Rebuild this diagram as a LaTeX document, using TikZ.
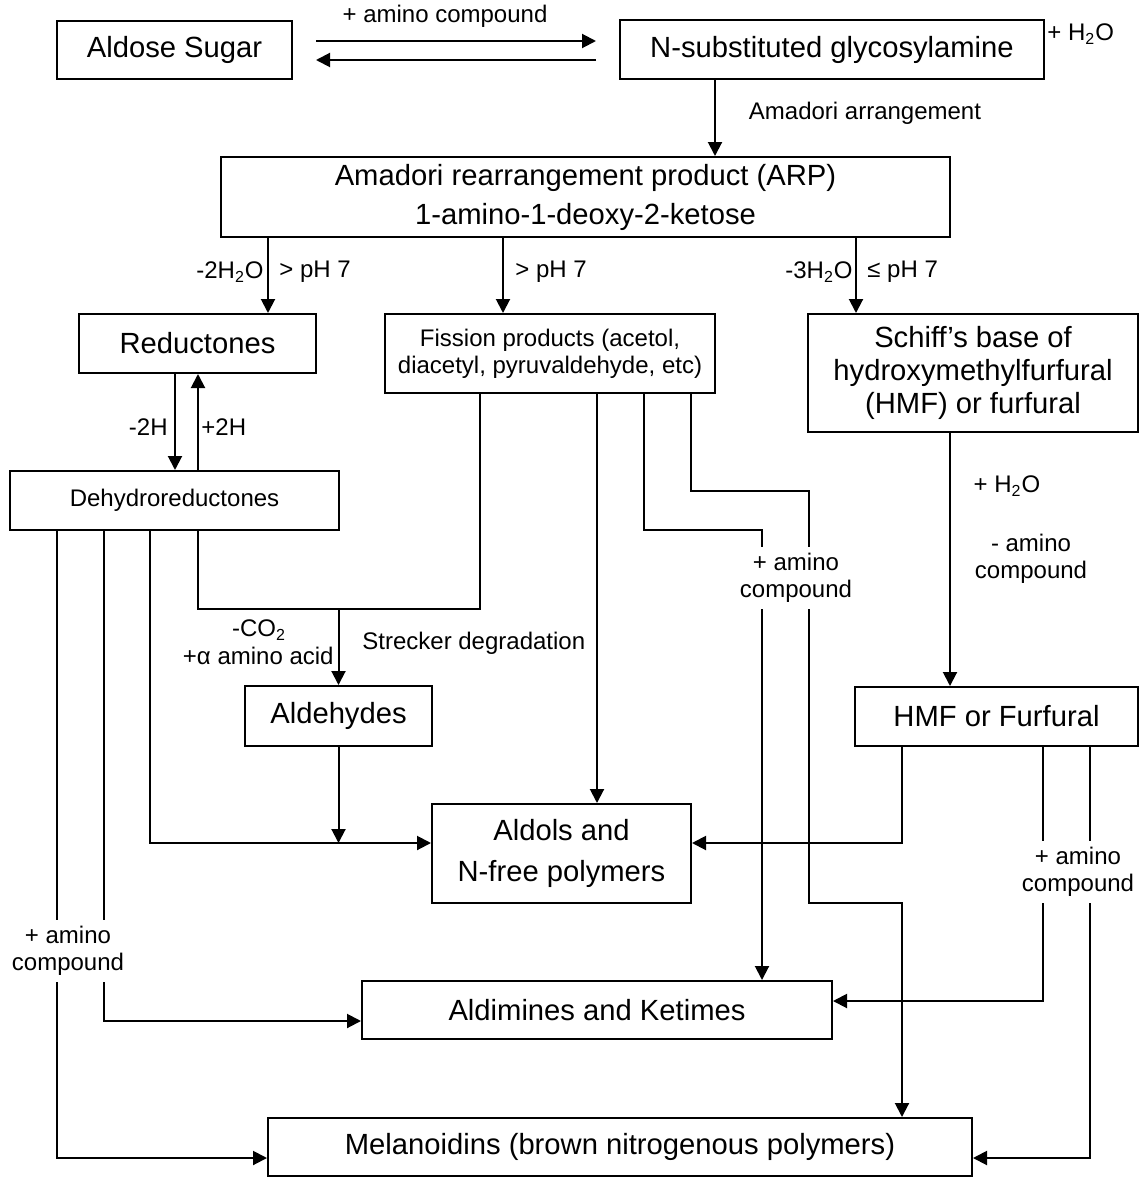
\documentclass[tikz,border=0pt]{standalone}
\usepackage{fontspec}
\setmainfont{Liberation Sans}
\usetikzlibrary{arrows.meta}

\begin{document}
\begin{tikzpicture}[x=0.5pt, y=-0.5pt,
    box/.style={draw, line width=1pt, inner sep=0pt, align=center, font={\fontsize{14.6}{17.5}\selectfont}},
    lbl/.style={inner sep=0pt, align=center, font={\fontsize{12}{13.5}\selectfont}},
    gap/.style={lbl, fill=white, inner sep=3pt},
    arr/.style={-{Triangle[length=7pt, width=7pt]}, line width=1pt},
    wire/.style={line width=1pt}]
    \useasboundingbox (0,0) rectangle (1143,1177);

    \foreach \x in {57,104,150,175,198,268,480,503,597,644,691,715,762,809,856,902,950,1043,1090}
        \coordinate (c\x) at (\x,0);
    \foreach \y in {41,60,491,530,609,843,903,1001,1021,1158}
        \coordinate (r\y) at (0,\y);

    \node[box, minimum width=117.5pt, minimum height=29pt] (aldose) at (174.5,50) {Aldose Sugar};
    \node[box, minimum width=212pt, minimum height=29.5pt] (glyco) at (832,49.5) {N-substituted glycosylamine};
    \node[box, minimum width=364.5pt, minimum height=40pt, font={\fontsize{14.6}{19.5}\selectfont}] (arp) at (585.5,197) {Amadori rearrangement product (ARP)\\1-amino-1-deoxy-2-ketose};
    \node[box, minimum width=118.5pt, minimum height=29.5pt] (reduct) at (197.5,343.5) {Reductones};
    \node[box, minimum width=165pt, minimum height=39.5pt, font={\fontsize{12}{13.5}\selectfont}] (fission) at (550,353.5) {Fission products (acetol,\\diacetyl, pyruvaldehyde, etc)};
    \node[box, minimum width=165pt, minimum height=59pt, font={\fontsize{14.6}{16.5}\selectfont}] (schiff) at (973,373) {Schiff’s base of\\hydroxymethylfurfural\\(HMF) or furfural};
    \node[box, minimum width=164.5pt, minimum height=29.5pt, font={\fontsize{12}{13.5}\selectfont}] (dehydro) at (174.5,500.5) {Dehydroreductones};
    \node[box, minimum width=93.5pt, minimum height=30pt] (aldehydes) at (338.5,716) {Aldehydes};
    \node[box, minimum width=141.5pt, minimum height=29.5pt] (hmf) at (996.5,716.5) {HMF or Furfural};
    \node[box, minimum width=129.5pt, minimum height=49.5pt, font={\fontsize{14.6}{20.5}\selectfont}] (aldols) at (561.5,853.5) {Aldols and\\N-free polymers};
    \node[box, minimum width=235pt, minimum height=29pt] (aldimines) at (597,1010) {Aldimines and Ketimes};
    \node[box, minimum width=352pt, minimum height=29pt] (melan) at (620,1147) {Melanoidins (brown nitrogenous polymers)};

    \draw[arr, shorten <=11.5pt, shorten >=11.5pt] (aldose.east |- r41) -- (glyco.west |- r41);
    \draw[arr, shorten <=11.5pt, shorten >=11.5pt] (glyco.west |- r60) -- (aldose.east |- r60);
    \draw[arr] (glyco.south -| c715) -- (arp.north -| c715);
    \draw[arr] (arp.south -| c268) -- (reduct.north -| c268);
    \draw[arr] (arp.south -| c503) -- (fission.north -| c503);
    \draw[arr] (arp.south -| c856) -- (schiff.north -| c856);
    \draw[arr] (reduct.south -| c175) -- (dehydro.north -| c175);
    \draw[arr] (dehydro.north -| c198) -- (reduct.south -| c198);

    \draw[wire] (dehydro.south -| c198) -- (c198 |- r609) -- (c480 |- r609) -- (fission.south -| c480);
    \draw[arr] (aldehydes.north |- r609) -- (aldehydes.north);
    \draw[arr] (dehydro.south -| c150) |- (aldols.west |- r843);
    \draw[arr] (aldehydes.south) -- (aldehydes.south |- r843);
    \draw[arr] (dehydro.south -| c104) |- (aldimines.west |- r1021);
    \draw[arr] (dehydro.south -| c57) |- (melan.west |- r1158);

    \draw[arr] (fission.south -| c597) -- (aldols.north -| c597);
    \draw[arr] (fission.south -| c644) |- (c762 |- r530) -- (aldimines.north -| c762);
    \draw[arr] (fission.south -| c691) |- (c809 |- r491) |- (c902 |- r903) -- (melan.north -| c902);

    \draw[arr] (schiff.south -| c950) -- (hmf.north -| c950);
    \draw[arr] (hmf.south -| c902) |- (aldols.east |- r843);
    \draw[arr] (hmf.south -| c1043) |- (aldimines.east |- r1001);
    \draw[arr] (hmf.south -| c1090) |- (melan.east |- r1158);

    \node[lbl] (amtop) at (445,16) {+ amino compound};
    \node[lbl, anchor=west] (waterA) at (1047,34) {+ H\textsubscript{2}O};
    \node[lbl] (amadori) at (865,113) {Amadori arrangement};
    \node[lbl, anchor=east] (minus2w) at (264,272) {-2H\textsubscript{2}O};
    \node[lbl, anchor=west] (phA) at (279,272) {> pH 7};
    \node[lbl, anchor=west] (phB) at (515,272) {> pH 7};
    \node[lbl, anchor=east] (minus3w) at (853,272) {-3H\textsubscript{2}O};
    \node[lbl, anchor=west] (phC) at (867,272) {≤ pH 7};
    \node[lbl, anchor=east] (minus2h) at (168,427) {-2H};
    \node[lbl, anchor=west] (plus2h) at (201,427) {+2H};
    \node[lbl] (co2) at (259,630) {-CO\textsubscript{2}};
    \node[lbl, anchor=east] (aacid) at (334,656) {+α amino acid};
    \node[lbl, anchor=west] (strecker) at (362,643) {Strecker degradation};
    \node[lbl] (waterB) at (1007,486) {+ H\textsubscript{2}O};
    \node[lbl] (lessam) at (1031,559) {- amino\\compound};
    \node[gap] (amleft) at (68,951) {+ amino\\compound};
    \node[gap] (ammid) at (796,578) {+ amino\\compound};
    \node[gap] (amright) at (1078,872) {+ amino\\compound};
\end{tikzpicture}
\end{document}
